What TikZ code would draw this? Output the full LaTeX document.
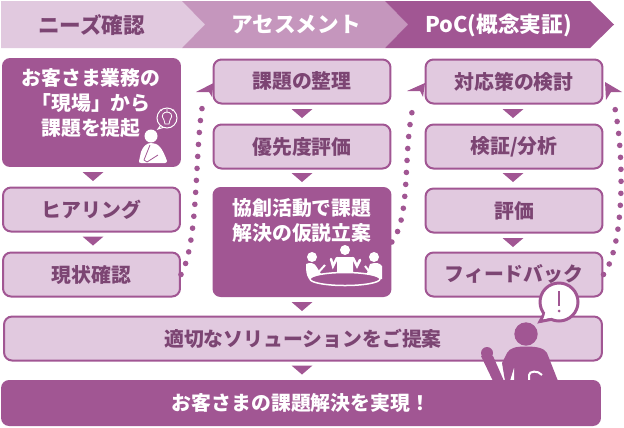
\documentclass[tikz,border=0pt]{standalone}
\usepackage{fontspec}
\setmainfont{Noto Sans CJK JP}
\definecolor{darkplum}{HTML}{A15693}
\definecolor{midplum}{HTML}{C596BD}
\definecolor{lightplum}{HTML}{E1C9DF}
\definecolor{textplum}{HTML}{7C4573}
\begin{document}
\begin{tikzpicture}[x=0.02cm,y=-0.02cm,
lightbox/.style = {draw=darkplum,line width=0.04cm,fill=lightplum,rounded corners=0.16cm,
        minimum width=3.54cm,minimum height=0.88cm,inner sep=0pt,
        text=textplum,font=\fontsize{11.3}{14}\selectfont\bfseries},
darkbox/.style = {fill=darkplum,rounded corners=0.16cm,inner sep=0pt,
        text=white,font=\fontsize{11.3}{14}\selectfont\bfseries},
boxlabel/.style = {align=center,inner sep=0pt,text=white,
        font=\fontsize{11.3}{14.2}\selectfont\bfseries},
headlabel/.style = {inner sep=0pt,font=\fontsize{12.3}{14}\selectfont\bfseries},
dotline/.style = {darkplum,line width=0.112cm,line cap=round,dash pattern=on 0pt off 0.24cm},
headtip/.style = {fill=darkplum}]

        \useasboundingbox (0,0) rectangle (624,427);

        % header
        \fill[lightplum] (1,1) -- (182,1) -- (205,24.5) -- (182,48) -- (1,48) -- cycle;
        \fill[midplum] (182,1) -- (385,1) -- (408,24.5) -- (385,48) -- (182,48) -- (205,24.5) -- cycle;
        \fill[darkplum] (385,1) -- (590,1) -- (614,24.5) -- (590,48) -- (385,48) -- (408,24.5) -- cycle;
        \node [headlabel,text=textplum] (need) at (91.5,25) {ニーズ確認};
        \node [headlabel,text=white] (assess) at (296,25) {アセスメント};
        \node [headlabel,text=white] (poc) at (498.5,25) {PoC(概念実証)};

        % first column
        \node [darkbox,minimum width=3.58cm,minimum height=2.18cm] (genba) at (91.5,112.5) {};
        \node [boxlabel,text depth=0pt] (genbatext) at (91,102) {お客さま業務の\\「現場」から\\課題を提起};
        \node [lightbox] (hearing) at (91.5,209.5) {ヒアリング};
        \node [lightbox] (genjo) at (91.5,274.5) {現状確認};

        % second column
        \node [lightbox] (seiri) at (302,81.5) {課題の整理};
        \node [lightbox] (yusen) at (302,146.5) {優先度評価};
        \node [darkbox,minimum width=3.58cm,minimum height=2.2cm] (kasetsu) at (302,242) {};
        \node [boxlabel] (kasetsutext) at (302,220) {協創活動で課題\\解決の仮説立案};

        % third column
        \node [lightbox] (taio) at (514,81.5) {対応策の検討};
        \node [lightbox] (kensho) at (514,146.5) {検証/分析};
        \node [lightbox] (hyoka) at (514,210.5) {評価};
        \node [lightbox] (feedback) at (514,274.5) {フィードバック};

        % wide rows
        \node [lightbox,minimum width=11.96cm] (teian) at (303,338.5) {適切なソリューションをご提案};

        % person in front of the wide row
        \fill[darkplum] (526,334) circle (11.7);
        \fill[darkplum] (487,353) circle (6);
        \fill[darkplum] (481,356) -- (493,356) -- (504,381) -- (493,381) -- cycle;
        \fill[darkplum] (526,346.5) .. controls (515,346.5) and (510,348) .. (507,353)
                -- (502,363) -- (505,381) -- (558,381) -- (547,353)
                .. controls (544,348) and (537,346.5) .. (526,346.5) -- cycle;
        \fill[white] (514,368) -- (510,381) -- (514,381) -- cycle;
        \draw[white,line width=0.04cm] (529,380) -- (529,375) .. controls (529,371) and (538,370) .. (542,375);

        \node [darkbox,minimum width=12cm,minimum height=0.92cm] (kaiketsu) at (301,403) {お客さまの課題解決を実現！};

        % speech bubble
        \coordinate (BubbleTail) at (540,321.5);
        \draw[darkplum,line width=0.06cm,fill=white] (545,312) -- (BubbleTail) -- (553,319);
        \draw[darkplum,line width=0.06cm,fill=white] (559,302) circle (19);
        \fill[white] (546,310) -- (543.5,319) -- (555,317) -- cycle;
        \draw[darkplum,line width=0.05cm] (559,291) -- (559,306);
        \fill[darkplum] (559,311) circle (1.5);

        % arrow triangles
        \foreach \tx/\ty in {93/172,93/236.5,302/109,302/173,302/302,302/365.5,513/109,513/173,513/238}
        {
            \fill[darkplum] (\tx-10.5,\ty) -- (\tx+10.5,\ty) -- (\tx,\ty+9) -- cycle;
        }

        % dotted returns
        \coordinate (SeiriDot) at (204,98);
        \coordinate (TaioDot) at (414,103);
        \coordinate (FeedDot) at (613,99);
        \draw[dotline] (genjo.east) .. controls (200,240) and (194,140) .. (SeiriDot);
        \draw[dotline] (kasetsu.east) .. controls (412,215) and (402,150) .. (TaioDot);
        \draw[dotline] (feedback.east) .. controls (625,245) and (625,150) .. (FeedDot);
        \coordinate (SeiriTip) at (213.5,83);
        \coordinate (TaioTip) at (425,83);
        \coordinate (FeedTip) at (605,82);
        \fill[headtip] (SeiriTip) -- (196,92) -- (209,92) -- (212,97) -- cycle;
        \fill[headtip] (TaioTip) -- (407,91) -- (420,91) -- (423,97) -- cycle;
        \fill[headtip] (FeedTip) -- (622,92) -- (611,92) -- (606,100) -- cycle;

        % worker icon with idea bubble
        \fill[white] (151,136) circle (6.5);
        \fill[white] (141,152) .. controls (143,146) and (147,143) .. (151,143)
                .. controls (158,143) and (162,147) .. (167,161)
                .. controls (167,162) and (166,163) .. (165,163) -- (141,163)
                .. controls (139,163) and (139,162) .. (139,161) -- cycle;
        \draw[darkplum,line width=0.016cm] (150,145) -- (144,160) -- (147,162) -- (158,155);
        \draw[white,line width=0.02cm] (161,125) -- (158,129) -- (163,127.5);
        \draw[white,line width=0.02cm] (167,118) circle (10);
        \draw[white,line width=0.016cm] (165,124) -- (169,124) -- (170,120) .. controls (174,115) and (170,112) .. (167,112)
                .. controls (164,112) and (160,115) .. (164,120) -- cycle;
        \draw[white,line width=0.012cm] (167,113) -- (167,108.5) (172,111) -- (174,109.5) (162,111) -- (160,109.5);

        % meeting icon
        \fill[white] (345,250) circle (5);
        \fill[white] (337,257) -- (353,257) -- (353,272) .. controls (349,273) and (341,273) .. (337,272) -- cycle;
        \draw[white,line width=0.05cm,line cap=round] (337,258) -- (333,266) -- (331,259) (353,258) -- (357,266) -- (360,260);
        \fill[white] (312,257) circle (5);
        \fill[white] (306,264) .. controls (310,262) and (314,263) .. (316,266) -- (323,277) -- (316,280) -- (309,279) .. controls (306,275) and (306,270) .. (306,264) -- cycle;
        \draw[white,line width=0.04cm] (316,275) -- (325,265);
        \fill[white] (374,257) circle (5);
        \fill[white] (370,264) .. controls (376,262) and (380,263) .. (382,266) -- (382,279) -- (373,280) -- (366,276) -- cycle;
        \draw[white,line width=0.04cm] (372,275) -- (365,266);
        \draw[white,line width=0.03cm,fill=darkplum] (345,279) ellipse (35 and 6.5);

\end{tikzpicture}
\end{document}
